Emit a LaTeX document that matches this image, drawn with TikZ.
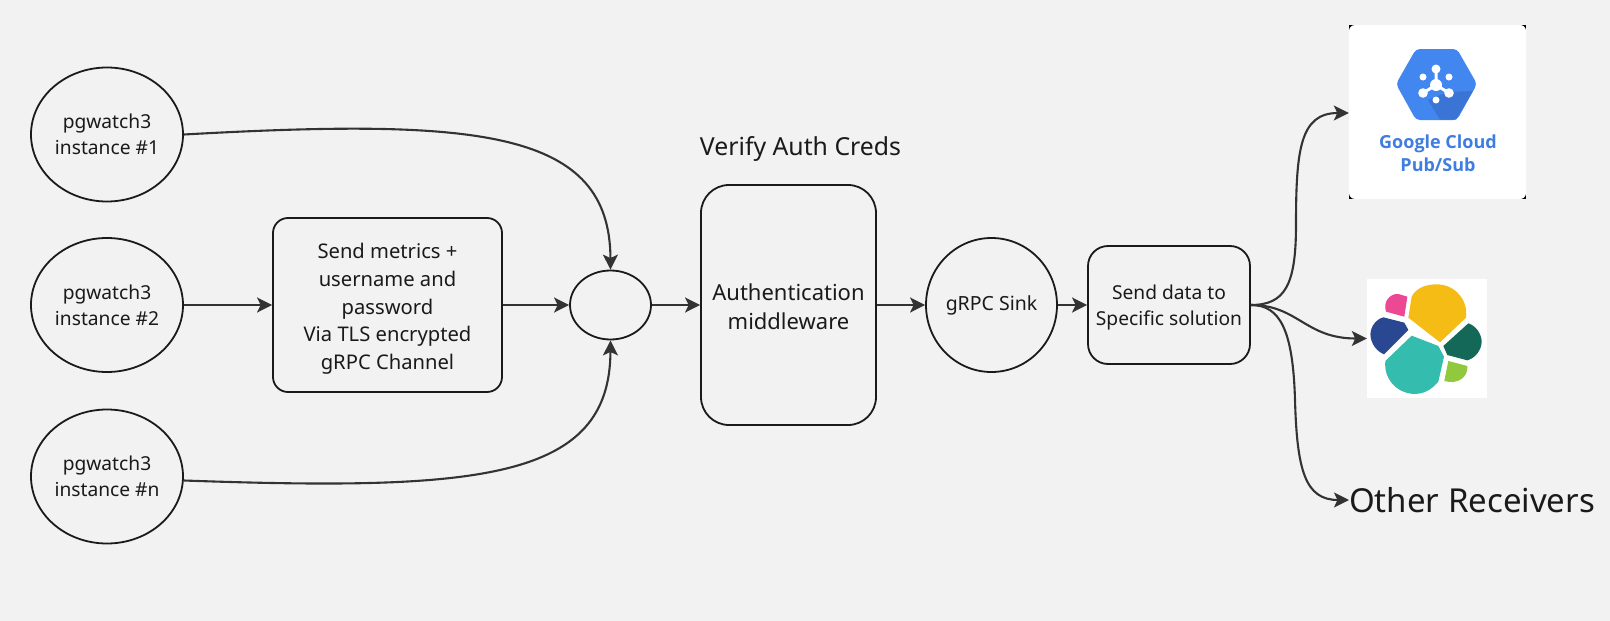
\documentclass[tikz,border=0pt]{standalone}
\usepackage{fontspec}
\setmainfont{Noto Sans}
\newfontfamily\gfont{Open Sans}
\usetikzlibrary{arrows.meta,shapes.geometric}
\definecolor{bgc}{HTML}{F2F2F2}
\definecolor{inkc}{HTML}{333333}
\definecolor{txtc}{HTML}{1A1A1A}
\definecolor{gblue}{HTML}{4286F0}
\definecolor{gdark}{HTML}{3A74D4}
\definecolor{gtext}{HTML}{3F7DE0}
\definecolor{eyellow}{RGB}{245,188,22}
\definecolor{epink}{RGB}{236,72,148}
\definecolor{eblue}{RGB}{42,72,146}
\definecolor{eteal}{RGB}{52,189,174}
\definecolor{edark}{RGB}{20,104,88}
\definecolor{elight}{RGB}{144,200,62}
\tikzset{
  shapeline/.style={draw=txtc,line width=1.8pt,text=txtc,align=center,inner sep=0pt},
  roundcirc/.style={shapeline,ellipse},
  instcirc/.style={shapeline,ellipse,minimum width=152pt,minimum height=134pt,font=\fontsize{19.2}{26}\selectfont},
  link/.style={draw=inkc,line width=2.1pt,-{Stealth[length=15pt,width=15pt,inset=3.5pt]}},
  boxed/.style={shapeline,rectangle,rounded corners=#1},
  labelt/.style={text=txtc,inner sep=0pt,align=center},
}
\begin{document}
\begin{tikzpicture}[x=1pt,y=-1pt]
\useasboundingbox (0,0) rectangle (1610,621);
\fill[bgc] (0,0) rectangle (1610,621);

\node[instcirc] (inst1) at (107,134.5) {pgwatch3\\instance \#1};
\node[instcirc] (inst2) at (107,305) {pgwatch3\\instance \#2};
\node[instcirc] (instn) at (107,476.5) {pgwatch3\\instance \#n};
\node[boxed=15pt,minimum width=229pt,minimum height=174pt,font=\fontsize{20.2}{27.8}\selectfont] (send) at (387.5,305)
  {\rule{0pt}{23pt}Send metrics +\\username and\\password\\Via TLS encrypted\\gRPC Channel};
\node[roundcirc,minimum width=81pt,minimum height=69pt] (join) at (610.5,305) {};
\node[boxed=28pt,minimum width=175pt,minimum height=240pt,font=\fontsize{22}{29.5}\selectfont] (auth) at (788.5,305)
  {\rule{0pt}{20pt}Authentication\\middleware};
\node[labelt,font=\fontsize{24.8}{30}\selectfont] (verify) at (800.5,149) {Verify Auth Creds};
\node[roundcirc,minimum width=131pt,minimum height=134pt,font=\fontsize{19.5}{26}\selectfont] (sink) at (991.5,305) {gRPC Sink};
\node[boxed=20pt,minimum width=162pt,minimum height=118pt,font=\fontsize{19.2}{26}\selectfont] (data) at (1169,305)
  {\rule{0pt}{19pt}Send data to\\Specific solution};

% Pub/Sub logo
\fill[black] (1349,25) rectangle (1526,199);
\node[fill=white,rounded corners=6pt,minimum width=177pt,minimum height=174pt,inner sep=0pt] (pubsub) at (1437.5,112) {};
\fill[gblue,rounded corners=4pt] (1396,84) -- (1416,49) -- (1457,49) -- (1477,84) -- (1457,120) -- (1416,120) -- cycle;
\fill[gdark] (1448,92) -- (1473,91) -- (1456,119.5) -- (1440,119.5) -- (1428,100) -- cycle;
\draw[white,line width=3pt] (1436,85) -- (1436,70) (1436,85) -- (1423,93) (1436,85) -- (1449,93);
\fill[white] (1436,85) circle (6pt);
\fill[white] (1436,69) circle (4.5pt);
\fill[white] (1423,77) circle (3.5pt);
\fill[white] (1449,77) circle (3.5pt);
\fill[white] (1423,93) circle (4.8pt);
\fill[white] (1449,93) circle (4.8pt);
\fill[white] (1436,100) circle (3.5pt);
\node[inner sep=0pt,text=gtext,align=center,font=\gfont\fontsize{18}{23}\selectfont\bfseries] (pubsubtext) at (1438,153.5) {Google Cloud\\Pub/Sub};

% Elastic logo
\node[fill=white,minimum width=120pt,minimum height=119pt,inner sep=0pt] (elastic) at (1427,338.5) {};
\begin{scope}[shift={(1360,275)},x=0.3333pt,y=-0.3333pt]
  \fill[eyellow] (145,128) -- (155,65) .. controls (170,35) and (205,28) .. (230,28) .. controls (285,28) and (325,75) .. (318,128) -- (240,202) -- cycle;
  \fill[epink] (142,65) -- (133,125) -- (78,110) .. controls (68,80) and (90,55) .. (115,57) -- cycle;
  \fill[eblue] (70,127) -- (133,143) -- (145,165) -- (72,238) .. controls (40,225) and (28,190) .. (32,170) .. controls (37,145) and (55,130) .. (70,127) -- cycle;
  \fill[eteal] (155,182) -- (235,213) -- (252,245) -- (235,320) .. controls (210,350) and (185,357) .. (160,357) .. controls (115,355) and (70,315) .. (76,258) -- cycle;
  \fill[edark] (325,145) .. controls (355,155) and (365,185) .. (365,200) .. controls (365,225) and (345,250) .. (322,256) -- (262,240) -- (250,213) -- cycle;
  \fill[elight] (265,258) -- (322,273) .. controls (325,305) and (295,330) .. (253,318) -- cycle;
\end{scope}

\node[labelt,anchor=west,font=\fontsize{33}{40}\selectfont] (other) at (1349,500) {Other Receivers};

% Connectors
\draw[link] (inst2.east) -- (send.west);
\draw[link] (send.east) -- (join.west);
\draw[link] (join.east) -- (auth.west);
\draw[link] (auth.east) -- (sink.west);
\draw[link] (sink.east) -- (data.west);
\draw[link] (inst1.east) .. controls (480,118) and (610,130) .. (join.north);
\draw[link] ([yshift=-4pt]instn.east) .. controls (480,491) and (610,480) .. (join.south);
\draw[link] (data.east) .. controls (1285,305) and (1296,285) .. (1296,225) .. controls (1296,150) and (1300,113) .. (pubsub.west |- 0,113);
\draw[link] (data.east) .. controls (1298,305) and (1305,338.5) .. (elastic.west);
\draw[link] (data.east) .. controls (1280,305) and (1293,330) .. (1295,400) .. controls (1297,470) and (1305,500) .. (other.west);
\end{tikzpicture}
\end{document}
